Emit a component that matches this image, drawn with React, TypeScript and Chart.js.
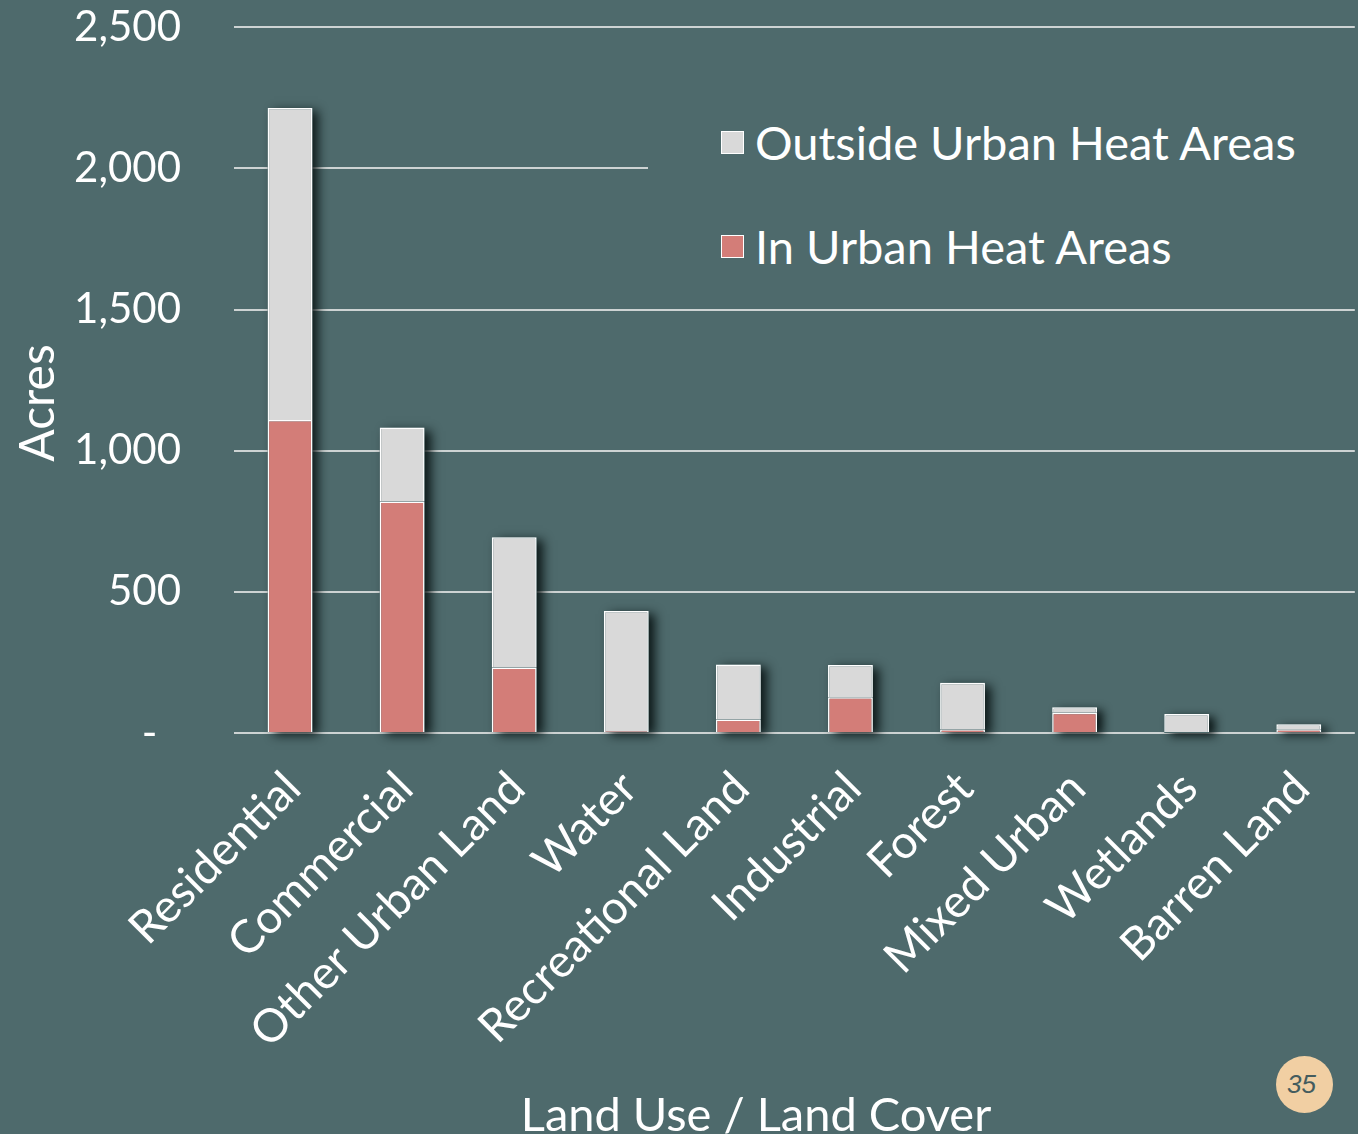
import React, { useEffect, useRef } from "react";
import { Chart, registerables } from "chart.js";

Chart.register(...registerables);

const categories = [
  "Residential",
  "Commercial",
  "Other Urban Land",
  "Water",
  "Recreational Land",
  "Industrial",
  "Forest",
  "Mixed Urban",
  "Wetlands",
  "Barren Land",
];
const inUrbanHeat = [1109, 820, 232, 7, 48, 127, 12, 72, 0, 13];
const outsideUrbanHeat = [1105, 262, 461, 425, 195, 114, 166, 19, 67, 18];
const yTickValues = [0, 500, 1000, 1500, 2000, 2500];
const yTickLabels = ["-\u2002\u200A", "500", "1,000", "1,500", "2,000", "2,500"];
const seriesNames = ["In Urban Heat Areas", "Outside Urban Heat Areas"];
const xTitle = "Land Use / Land Cover";
const yTitle = "Acres";
const pageNumber = "35";

const W = 1358;
const H = 1134;
const SHIFT = 51;
const EXTRA_W = 8;
const CW = W + EXTRA_W;
const CH = H + SHIFT;
const BG = "#4E6A6C";
const RED = "#D37D78";
const GRAY = "#D9D9D9";
const GRID = "#CDD3D3";
const FONT = "Lato, 'Open Sans', sans-serif";

const shadowPlugin = {
  id: "columnShadow",
  beforeDatasetsDraw(chart: any) {
    const ctx = chart.ctx;
    const metas = chart.data.datasets.map((_: any, i: number) => chart.getDatasetMeta(i));
    const n = chart.data.labels.length;
    ctx.save();
    ctx.shadowColor = "rgba(5,15,15,0.9)";
    ctx.shadowBlur = 10;
    ctx.shadowOffsetX = 6;
    ctx.shadowOffsetY = 3;
    ctx.fillStyle = BG;
    for (let i = 0; i < n; i++) {
      let top = Infinity;
      let bottom = -Infinity;
      let x = 0;
      let w = 0;
      metas.forEach((m: any) => {
        const el = m.data[i];
        if (!el) return;
        const p = el.getProps(["x", "y", "base", "width"], true);
        top = Math.min(top, p.y, p.base);
        bottom = Math.max(bottom, p.y, p.base);
        x = p.x;
        w = p.width;
      });
      if (bottom - top > 0.5) {
        ctx.fillRect(x - w / 2, top, w, bottom - top);
      }
    }
    ctx.restore();
  },
};

export default function App() {
  const ref = useRef<HTMLCanvasElement | null>(null);

  useEffect(() => {
    if (!ref.current) return;
    const chart = new Chart(ref.current, {
      type: "bar",
      data: {
        labels: categories,
        datasets: [
          {
            label: seriesNames[0],
            data: inUrbanHeat,
            backgroundColor: RED,
            borderColor: "#FFFFFF",
            borderWidth: 1.5,
            barPercentage: 0.4,
            categoryPercentage: 1,
          },
          {
            label: seriesNames[1],
            data: outsideUrbanHeat,
            backgroundColor: GRAY,
            borderColor: "#FFFFFF",
            borderWidth: 1.5,
            barPercentage: 0.4,
            categoryPercentage: 1,
          },
        ],
      },
      options: {
        animation: false,
        responsive: false,
        maintainAspectRatio: false,
        layout: { padding: { top: 24, right: 4, left: 0, bottom: 0 } },
        plugins: {
          legend: { display: false },
          tooltip: { enabled: false },
        },
        scales: {
          x: {
            stacked: true,
            grid: { display: false, drawTicks: false },
            border: { display: false },
            ticks: {
              color: "#FFFFFF",
              font: { family: FONT, size: 46 },
              minRotation: 45,
              maxRotation: 45,
              padding: 28,
              labelOffset: 3,
              autoSkip: false,
            },
            afterFit(scale: any) {
              scale.height = CH - (733 + SHIFT);
            },
          },
          y: {
            stacked: true,
            min: 0,
            max: 2500,
            afterBuildTicks(scale: any) {
              scale.ticks = yTickValues.map((v) => ({ value: v }));
            },
            grid: { color: GRID, lineWidth: 2, drawTicks: false },
            border: { display: false },
            ticks: {
              color: "#FFFFFF",
              font: { family: FONT, size: 42 },
              padding: 53,
              callback(value: any) {
                const idx = yTickValues.indexOf(Number(value));
                return idx >= 0 ? yTickLabels[idx] : "";
              },
            },
            afterFit(scale: any) {
              scale.width = 234;
            },
          },
        },
      },
      plugins: [shadowPlugin],
    });
    return () => chart.destroy();
  }, []);

  const legendItems = [
    { name: seriesNames[1], color: GRAY, top: 114 },
    { name: seriesNames[0], color: RED, top: 218 },
  ];

  return (
    <div
      style={{
        position: "fixed",
        left: 0,
        top: 0,
        width: W,
        height: H,
        background: BG,
        overflow: "hidden",
      }}
    >
      <canvas
        ref={ref}
        width={CW}
        height={CH}
        style={{ position: "absolute", left: 0, top: -SHIFT, width: CW, height: CH, display: "block" }}
      />
      <div
        style={{
          position: "absolute",
          left: 648,
          top: 100,
          width: W - 648,
          height: 190,
          background: BG,
        }}
      >
        {legendItems.map((it) => (
          <div
            key={it.name}
            style={{
              position: "absolute",
              left: 721 - 648,
              top: it.top - 100,
              display: "flex",
              alignItems: "center",
              whiteSpace: "nowrap",
              fontFamily: FONT,
              fontSize: 47,
              lineHeight: "56px",
              color: "#FFFFFF",
            }}
          >
            <span
              style={{
                display: "inline-block",
                width: 21,
                height: 21,
                background: it.color,
                border: "1.5px solid #FFFFFF",
                marginRight: 11,
              }}
            />
            <span>{it.name}</span>
          </div>
        ))}
      </div>
      <div
        style={{
          position: "absolute",
          left: 756 - 300,
          width: 600,
          top: 1085,
          textAlign: "center",
          fontFamily: FONT,
          fontSize: 47,
          lineHeight: "56px",
          color: "#FFFFFF",
          whiteSpace: "nowrap",
        }}
      >
        {xTitle}
      </div>
      <div
        style={{
          position: "absolute",
          left: 36 - 100,
          top: 403 - 28,
          width: 200,
          height: 56,
          lineHeight: "56px",
          textAlign: "center",
          transform: "rotate(-90deg)",
          fontFamily: FONT,
          fontSize: 48,
          color: "#FFFFFF",
          whiteSpace: "nowrap",
        }}
      >
        {yTitle}
      </div>
      <div
        style={{
          position: "absolute",
          left: 1276,
          top: 1056,
          width: 57,
          height: 57,
          borderRadius: "50%",
          background: "#F1CFA3",
          display: "flex",
          alignItems: "center",
          justifyContent: "center",
          fontFamily: "'Liberation Sans', Arial, sans-serif",
          fontStyle: "italic",
          fontSize: 26,
          color: "#445C5E",
        }}
      >
        <span style={{ marginRight: 6 }}>{pageNumber}</span>
      </div>
    </div>
  );
}
